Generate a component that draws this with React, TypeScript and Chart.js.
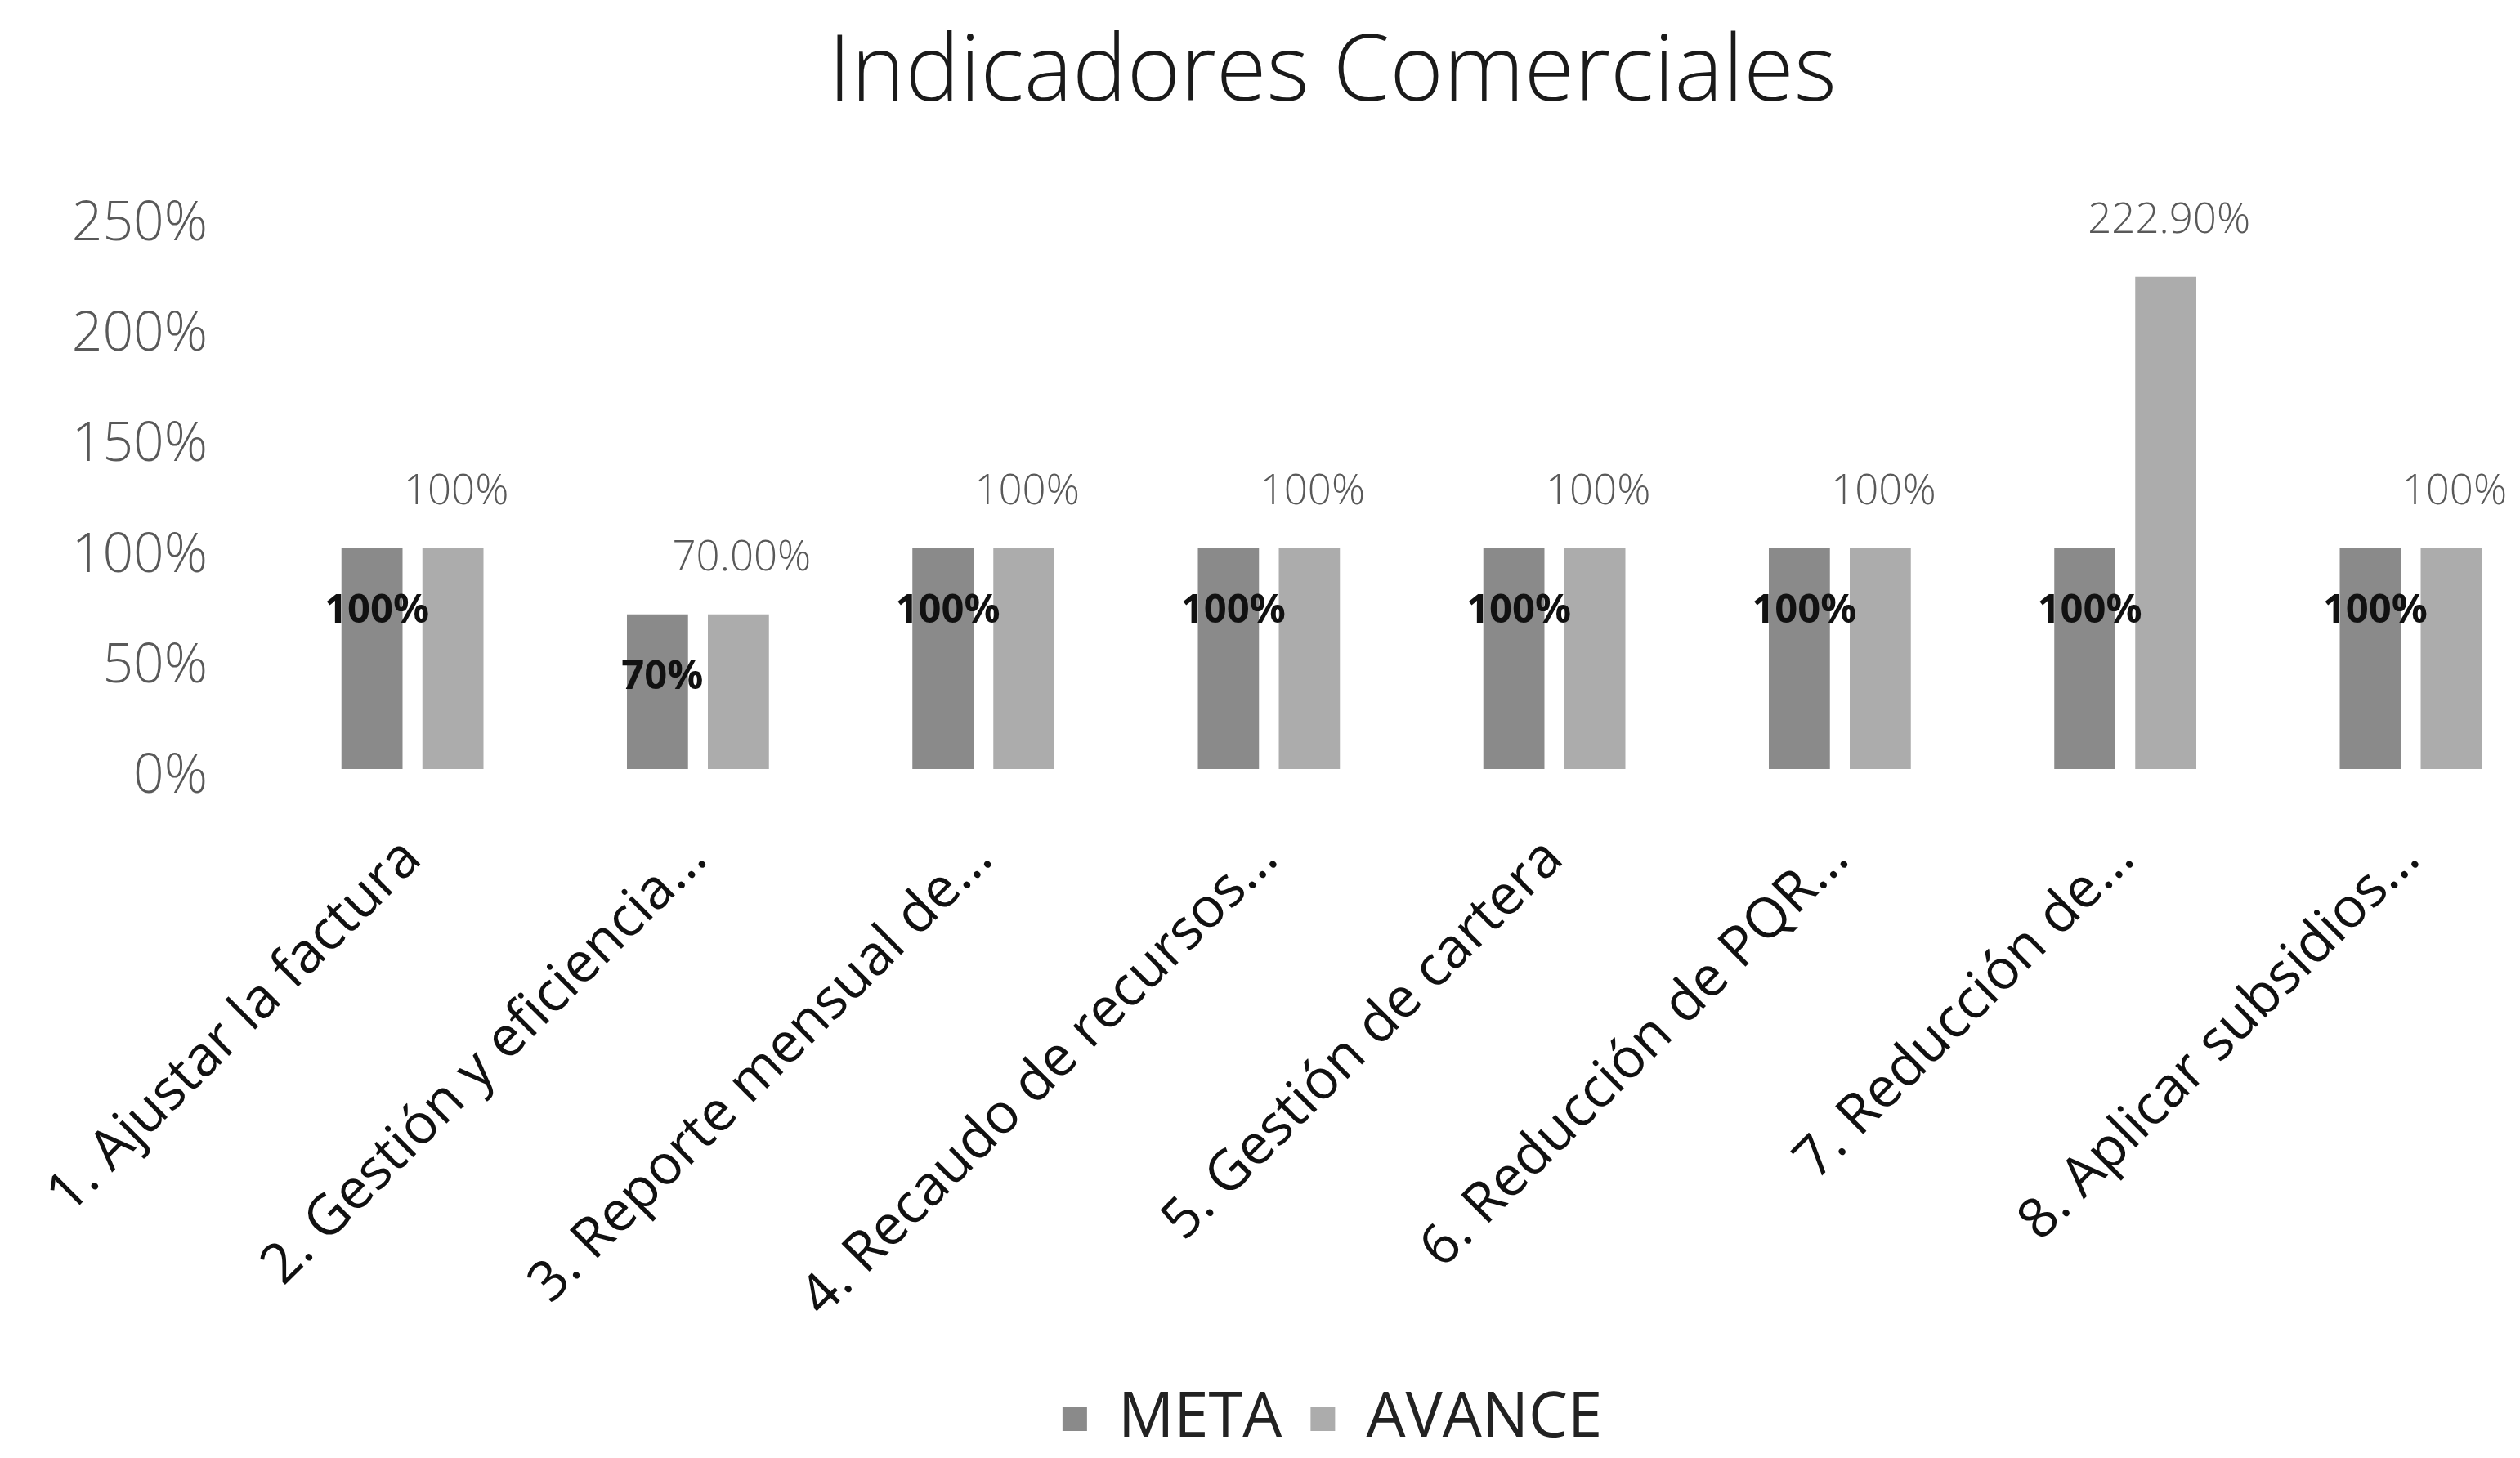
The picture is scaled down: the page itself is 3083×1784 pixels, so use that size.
import React, { useEffect, useRef } from "react";
import { Chart, registerables } from "chart.js";

Chart.register(...registerables);

const categories = [
  "1. Ajustar la factura",
  "2. Gestión y eficiencia...",
  "3. Reporte mensual de...",
  "4. Recaudo de recursos...",
  "5. Gestión de cartera",
  "6. Reducción de PQR...",
  "7. Reducción de...",
  "8. Aplicar subsidios...",
];
const metaValues = [100, 70, 100, 100, 100, 100, 100, 100];
const avanceValues = [100, 70, 100, 100, 100, 100, 222.9, 100];
const metaLabels = ["100%", "70%", "100%", "100%", "100%", "100%", "100%", "100%"];
const avanceLabels = ["100%", "70.00%", "100%", "100%", "100%", "100%", "222.90%", "100%"];
const yMin = 0;
const yMax = 250;
const yStep = 50;

const FONT = "'Open Sans', 'Noto Sans', sans-serif";

const valueLabelPlugin = {
  id: "valueLabels",
  afterLayout(chart: any) {
    // let the y tick labels extend left of the axis box without clipping
    const y = chart.scales.y;
    if (y) y.left = 0;
  },
  afterDatasetsDraw(chart: any) {
    const ctx = chart.ctx;
    ctx.save();
    ctx.textAlign = "center";
    ctx.textBaseline = "middle";
    const m0 = chart.getDatasetMeta(0);
    m0.data.forEach((bar: any, i: number) => {
      ctx.font = `bold 49px ${FONT}`;
      ctx.fillStyle = "#111111";
      ctx.fillText(metaLabels[i], bar.x + 6, bar.y + 77);
    });
    const m1 = chart.getDatasetMeta(1);
    m1.data.forEach((bar: any, i: number) => {
      ctx.font = `300 51px ${FONT}`;
      ctx.fillStyle = "#595959";
      ctx.fillText(avanceLabels[i], bar.x + 4, bar.y - 68);
    });
    ctx.restore();
  },
};

export default function App() {
  const ref = useRef<HTMLCanvasElement | null>(null);
  useEffect(() => {
    if (!ref.current) return;
    const chart = new Chart(ref.current, {
      type: "bar",
      data: {
        labels: categories,
        datasets: [
          {
            label: "META",
            data: metaValues,
            backgroundColor: "#8a8a8a",
            categoryPercentage: 0.567,
            barPercentage: 0.755,
          },
          {
            label: "AVANCE",
            data: avanceValues,
            backgroundColor: "#acacac",
            categoryPercentage: 0.567,
            barPercentage: 0.755,
          },
        ],
      },
      options: {
        responsive: false,
        animation: false,
        devicePixelRatio: 1,
        layout: { padding: { left: 136, right: 136, top: 0, bottom: 0 } },
        plugins: {
          title: {
            display: true,
            text: "Indicadores Comerciales",
            color: "#1a1a1a",
            font: { family: FONT, size: 112, weight: "300" as any },
            padding: { top: 24, bottom: 107 },
          },
          legend: {
            display: true,
            position: "bottom",
            labels: {
              color: "#222222",
              font: { family: FONT, size: 76 },
              boxWidth: 30,
              boxHeight: 30,
              padding: 35,
            },
          },
          tooltip: { enabled: false },
        },
        scales: {
          x: {
            grid: { display: false },
            border: { display: false },
            ticks: {
              autoSkip: false,
              maxRotation: 45,
              minRotation: 45,
              padding: 62,
              color: "#111111",
              font: { family: FONT, size: 68 },
            },
            afterFit(scale: any) {
              scale.height = 722;
              scale.paddingLeft = 0;
              scale.paddingRight = 0;
            },
          },
          y: {
            min: yMin,
            max: yMax,
            grid: { display: false },
            border: { display: false },
            ticks: {
              stepSize: yStep,
              padding: 68,
              labelOffset: 10,
              color: "#595959",
              font: { family: FONT, size: 66, weight: "300" as any },
              callback: (v: any) => `${v}%`,
            },
            afterFit(scale: any) {
              scale.width = 194;
            },
          },
        },
      },
      plugins: [valueLabelPlugin],
    });
    return () => chart.destroy();
  }, []);
  return (
    <div
      style={{
        position: "fixed",
        left: 0,
        top: 0,
        width: 3083,
        height: 1784,
        overflow: "hidden",
        background: "#ffffff",
      }}
    >
      <canvas ref={ref} width={3260} height={1784} style={{ display: "block", width: 3260, height: 1784 }} />
    </div>
  );
}
